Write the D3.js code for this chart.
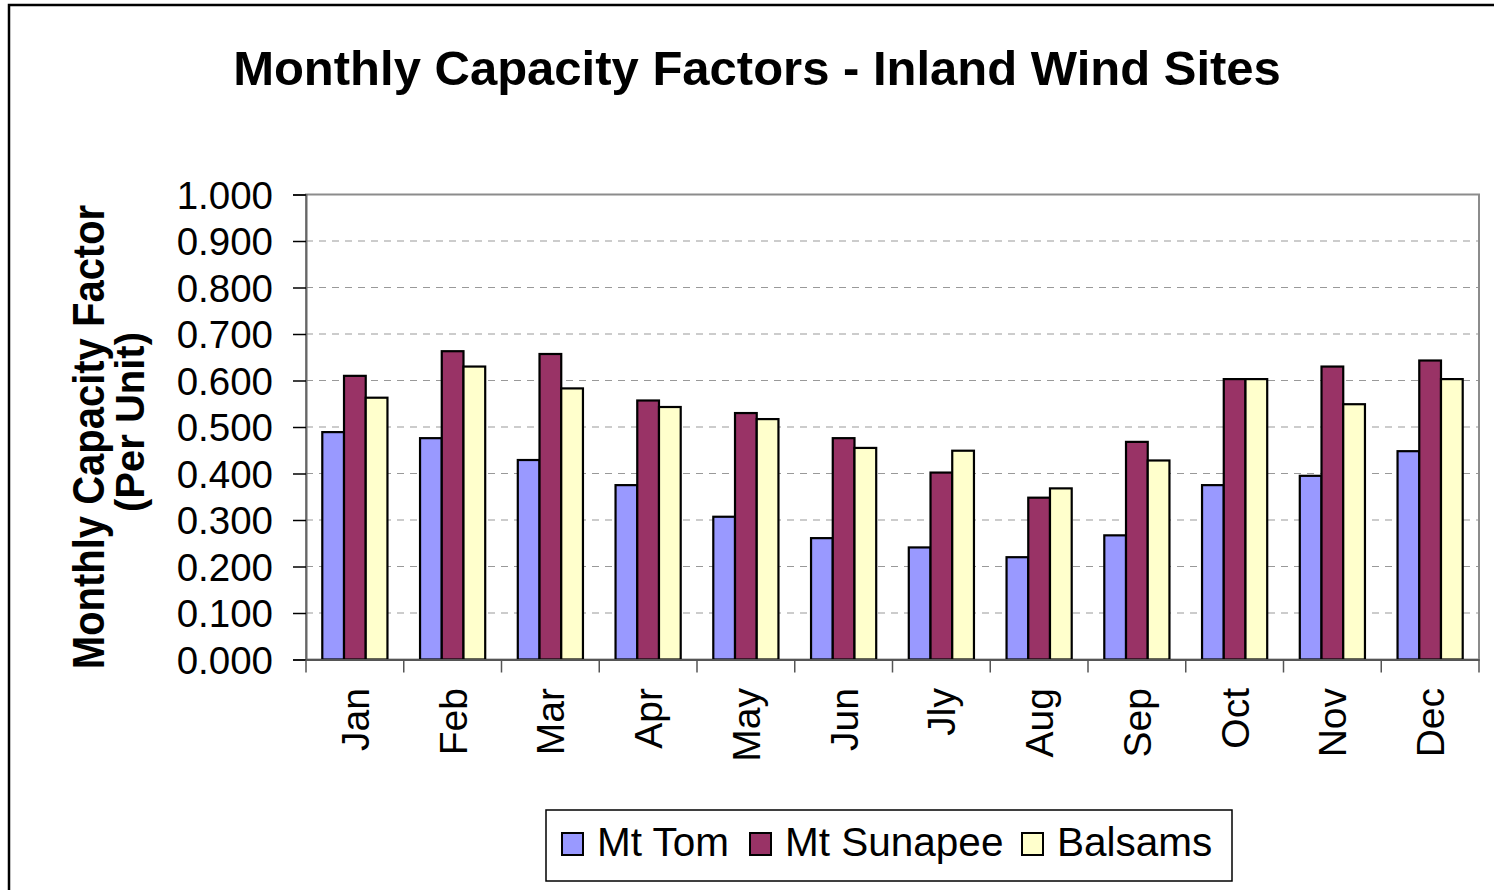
<!DOCTYPE html>
<html>
<head>
<meta charset="utf-8">
<script src="https://cdn.jsdelivr.net/npm/d3@7"></script>
<style>
  body { margin: 0; background: #fff; }
  svg { display: block; font-family: "Liberation Sans", Arial, sans-serif; }
</style>
</head>
<body>
<svg id="chart" width="1494" height="890"></svg>
<script>
const months = ["Jan", "Feb", "Mar", "Apr", "May", "Jun", "Jly", "Aug", "Sep", "Oct", "Nov", "Dec"];
const seriesNames = ["Mt Tom", "Mt Sunapee", "Balsams"];
const mtTom = [0.489, 0.476, 0.429, 0.375, 0.307, 0.261, 0.241, 0.220, 0.267, 0.375, 0.395, 0.448];
const mtSunapee = [0.610, 0.663, 0.657, 0.557, 0.530, 0.476, 0.402, 0.348, 0.468, 0.603, 0.630, 0.643];
const balsams = [0.563, 0.630, 0.583, 0.543, 0.517, 0.455, 0.449, 0.368, 0.428, 0.603, 0.549, 0.603];
const yTicks = [0, 0.1, 0.2, 0.3, 0.4, 0.5, 0.6, 0.7, 0.8, 0.9, 1.0];
const colors = ["#9999FF", "#993366", "#FFFFCC"];

const plotLeft = 306;
const plotRight = 1479;
const plotTop = 194.5;
const plotBottom = 659.5;

const svg = d3.select("#chart");

// outer chart frame (right and bottom edges run off the picture)
svg.append("rect")
  .attr("x", 9).attr("y", 5)
  .attr("width", 1500).attr("height", 900)
  .attr("fill", "#fff")
  .attr("stroke", "#000")
  .attr("stroke-width", 2.5);

svg.append("text")
  .attr("x", 757).attr("y", 85)
  .attr("text-anchor", "middle")
  .attr("font-size", 49)
  .attr("font-weight", "bold")
  .text("Monthly Capacity Factors - Inland Wind Sites");

const data = months.map((m, i) => ({
  month: m,
  values: [mtTom[i], mtSunapee[i], balsams[i]]
}));

const x0 = d3.scaleBand()
  .domain(months)
  .range([plotLeft, plotRight])
  .paddingInner(0)
  .paddingOuter(0);

// excel-style gap width of 150%
const x1 = d3.scaleBand()
  .domain(seriesNames)
  .range([0, x0.bandwidth()])
  .paddingInner(0)
  .paddingOuter(0.75);

const y = d3.scaleLinear()
  .domain([0, 1])
  .range([plotBottom, plotTop]);

// gridlines
svg.append("g")
  .selectAll("line")
  .data(yTicks.filter((d) => d > 0 && d < 1))
  .join("line")
  .attr("x1", plotLeft).attr("x2", plotRight)
  .attr("y1", (d) => y(d)).attr("y2", (d) => y(d))
  .attr("stroke", "#999")
  .attr("stroke-width", 1.2)
  .attr("stroke-dasharray", "7,6");

// plot border
svg.append("rect")
  .attr("x", plotLeft).attr("y", plotTop)
  .attr("width", plotRight - plotLeft)
  .attr("height", plotBottom - plotTop)
  .attr("fill", "none")
  .attr("stroke", "#8c8c8c")
  .attr("stroke-width", 2);

// bars
const groups = svg.append("g")
  .selectAll("g")
  .data(data)
  .join("g")
  .attr("transform", (d) => `translate(${x0(d.month)},0)`);

groups.selectAll("rect")
  .data((d) => d.values.map((v, i) => ({ name: seriesNames[i], value: v, i })))
  .join("rect")
  .attr("x", (d) => x1(d.name))
  .attr("y", (d) => y(d.value))
  .attr("width", x1.bandwidth())
  .attr("height", (d) => y(0) - y(d.value))
  .attr("fill", (d) => colors[d.i])
  .attr("stroke", "#000")
  .attr("stroke-width", 2.2);

// y axis
const yAxis = d3.axisLeft(y)
  .tickValues(yTicks)
  .tickFormat(d3.format(".3f"))
  .tickSize(13)
  .tickPadding(20);

const yG = svg.append("g")
  .attr("transform", `translate(${plotLeft},0)`)
  .call(yAxis);
yG.select(".domain").attr("stroke", "#666").attr("stroke-width", 2);
yG.selectAll(".tick line").attr("stroke", "#000").attr("stroke-width", 1.5);
yG.selectAll(".tick text")
  .attr("font-size", 38.5)
  .attr("font-family", "Liberation Sans, Arial, sans-serif")
  .attr("fill", "#000")
  .attr("dy", "0.36em");

// x axis
const xAxis = d3.axisBottom(x0).tickSize(0).tickFormat("");
const xG = svg.append("g")
  .attr("transform", `translate(0,${plotBottom})`)
  .call(xAxis);
xG.select(".domain").attr("stroke", "#555").attr("stroke-width", 2);

// category boundary ticks
svg.append("g")
  .selectAll("line")
  .data(months.concat(["end"]))
  .join("line")
  .attr("x1", (d, i) => plotLeft + i * x0.step())
  .attr("x2", (d, i) => plotLeft + i * x0.step())
  .attr("y1", plotBottom)
  .attr("y2", plotBottom + 13)
  .attr("stroke", "#555")
  .attr("stroke-width", 1.5);

// month labels, rotated
svg.append("g")
  .selectAll("text")
  .data(months)
  .join("text")
  .attr("transform", (d) => `translate(${x0(d) + x0.bandwidth() / 2},688) rotate(-90)`)
  .attr("text-anchor", "end")
  .attr("dy", "0.36em")
  .attr("font-size", 39)
  .text((d) => d);

// y axis title
svg.append("text")
  .attr("transform", "translate(104,437) scale(1.12,1) rotate(-90)")
  .attr("text-anchor", "middle")
  .attr("font-size", 40)
  .attr("font-weight", "bold")
  .text("Monthly Capacity Factor");
svg.append("text")
  .attr("transform", "translate(144,422) rotate(-90)")
  .attr("text-anchor", "middle")
  .attr("font-size", 40)
  .attr("font-weight", "bold")
  .text("(Per Unit)");

// legend
const legend = svg.append("g");
legend.append("rect")
  .attr("x", 546).attr("y", 810)
  .attr("width", 686).attr("height", 71)
  .attr("fill", "#fff")
  .attr("stroke", "#000")
  .attr("stroke-width", 1.5);

const legendX = [562, 750, 1022];
const items = legend.selectAll("g.item")
  .data(seriesNames)
  .join("g")
  .attr("class", "item")
  .attr("transform", (d, i) => `translate(${legendX[i]},833)`);
items.append("rect")
  .attr("width", 21).attr("height", 22)
  .attr("fill", (d, i) => colors[i])
  .attr("stroke", "#000")
  .attr("stroke-width", 2);
items.append("text")
  .attr("x", 35).attr("y", 23)
  .attr("font-size", 40.5)
  .text((d) => d);
</script>
</body>
</html>
